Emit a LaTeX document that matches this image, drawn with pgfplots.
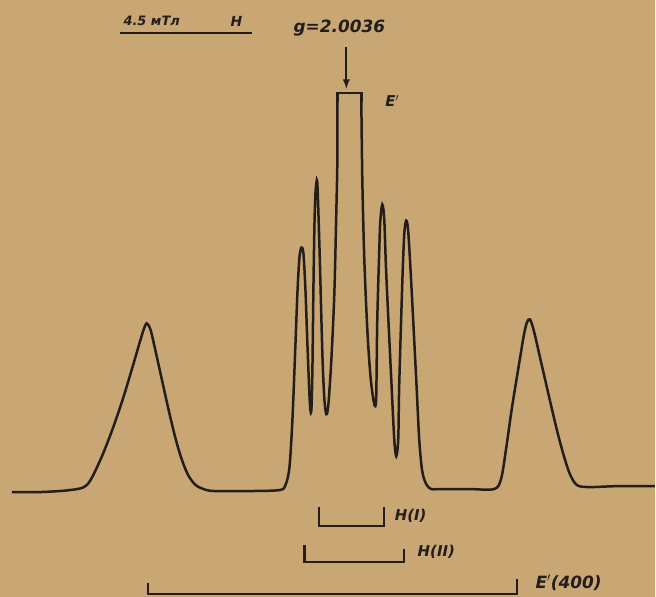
\documentclass[border=0pt]{standalone}
\usepackage{fontspec}
\setmainfont{DejaVu Sans}
\usepackage{pgfplots}
\pgfplotsset{compat=1.18}
\definecolor{paper}{RGB}{201,167,117}
\definecolor{ink}{RGB}{35,30,25}
\begin{document}
\begin{tikzpicture}
\begin{axis}[
  width=656bp, height=598bp, scale only axis,
  xmin=0, xmax=656, ymin=0, ymax=598, y dir=reverse,
  hide axis, clip=false,
]
\fill[paper] (axis cs:0,0) rectangle (axis cs:656,598);
% spectrum, left part
\addplot[ink, line width=2.5bp, smooth, tension=0.5] coordinates {
(12,493) (40,493) (70,491) (87,486) (100,462) (112,432) (123,400) (133,367) (140,343) (144,330) (147,324) (151,331) (157,357) (163,384) (169,411) (175,436) (181,457) (188,475) (196,486) (207,491) (217,492) (250,492) (280,491) (286,486) (290,468) (293,420) (296,345) (298,293) (300,258) (302,248) (304,254) (306,290) (308,345) (310,395) (311,411) (312,410) (313,370) (314,290) (315,227) (316,195) (317,183) (318,185) (320,245) (323,355) (325,400) (327,415) (329,405) (332,360) (335,293) (337,210) (338,160) (338,100)
};
% flat (saturated) top
\addplot[ink, line width=2.5bp, sharp plot] coordinates {
(338,102) (338,93) (362,93) (362,102)
};
% spectrum, right part
\addplot[ink, line width=2.5bp, smooth, tension=0.5] coordinates {
(362,100) (363,180) (365,260) (368,330) (371,375) (374,400) (376,407) (377,395) (378,320) (380,250) (381,222) (383,205) (385,220) (387,275) (392,380) (395,440) (397,457) (399,440) (400,385) (403,285) (405,235) (407,221) (409,232) (412,283) (417,380) (420,440) (423,472) (427,485) (432,490) (440,490) (470,490) (495,490) (502,480) (507,450) (513,408) (520,365) (525,335) (528,323) (531,320) (535,332) (541,358) (547,384) (553,410) (559,435) (565,457) (571,475) (578,486) (590,488) (620,487) (656,487)
};
% scale bar
\draw[ink, line width=2bp] (axis cs:120,33) -- (axis cs:252,33);
\node[ink, font=\fontsize{13}{13}\selectfont\itshape\bfseries] at (axis cs:152,21) {4.5 мТл};
\node[ink, font=\fontsize{14}{14}\selectfont\itshape\bfseries] at (axis cs:237,21) {H};
% g marker
\node[ink, font=\fontsize{17}{17}\selectfont\itshape\bfseries] at (axis cs:340,28) {g=2.0036};
\draw[ink, line width=2.2bp, -{latex}] (axis cs:347,47) -- (axis cs:347,89);
\node[ink, font=\fontsize{15}{15}\selectfont\itshape\bfseries] at (axis cs:393,101) {E$'$};
% brackets
\draw[ink, line width=2.2bp] (axis cs:320,508) -- (axis cs:320,527) -- (axis cs:385,527) -- (axis cs:385,508);
\node[ink, font=\fontsize{15}{15}\selectfont\itshape\bfseries, anchor=west] at (axis cs:392,517) {H(I)};
\draw[ink, line width=2.2bp] (axis cs:305,546) -- (axis cs:305,563) -- (axis cs:405,563) -- (axis cs:405,550);
\node[ink, font=\fontsize{15}{15}\selectfont\itshape\bfseries, anchor=west] at (axis cs:415,553) {H(II)};
\draw[ink, line width=2.2bp] (axis cs:148,584) -- (axis cs:148,595) -- (axis cs:518,595) -- (axis cs:518,580);
\node[ink, font=\fontsize{17}{17}\selectfont\itshape\bfseries, anchor=west] at (axis cs:533,584) {E$'$(400)};
\end{axis}
\end{tikzpicture}
\end{document}
